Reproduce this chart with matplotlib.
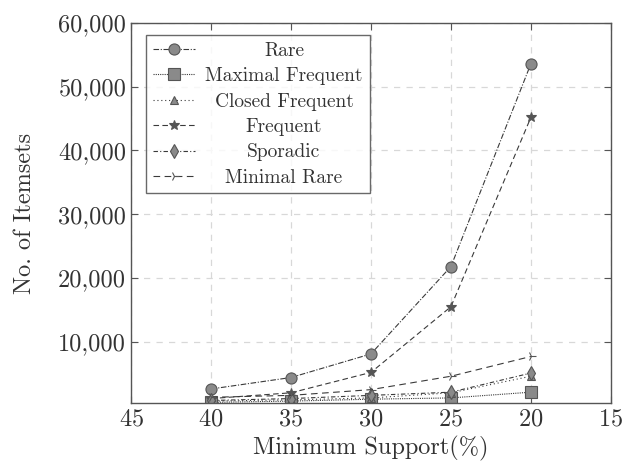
import matplotlib
matplotlib.use("Agg")
import matplotlib.pyplot as plt
from matplotlib.ticker import FuncFormatter

plt.rcParams['font.family'] = 'serif'
plt.rcParams['font.serif'] = ['cmr10']
plt.rcParams['mathtext.fontset'] = 'cm'
plt.rcParams['axes.formatter.use_mathtext'] = True

support = [40, 35, 30, 25, 20]
rare = [2600, 4400, 8100, 21800, 53600]
maximal_frequent = [500, 700, 1000, 1200, 2100]
closed_frequent = [700, 900, 1200, 2000, 4600]
frequent = [1100, 2000, 5200, 15500, 45200]
sporadic = [800, 1100, 1600, 2100, 5100]
minimal_rare = [1300, 1600, 2500, 4600, 7700]

names = ["Rare", "Maximal Frequent", "Closed Frequent", "Frequent",
         "Sporadic", "Minimal Rare"]
series = [rare, maximal_frequent, closed_frequent, frequent, sporadic,
          minimal_rare]

markers = ['o', 's', '^', '*', 'd', '4']
msizes = [8, 8, 6, 7, 7, 7]
faces = ['#8a8a8a', '#8a8a8a', '#8a8a8a', '#555555', '#8a8a8a', '#555555']
styles = [(0, (5, 1.5, 1, 1.5)), (0, (1, 1)), (0, (1, 2.5)), (0, (5, 3)),
          (0, (4, 2, 1, 2)), (0, (6, 4))]

fig = plt.figure(figsize=(6.24, 4.67), dpi=100)
ax = fig.add_axes([0.21, 0.137, 0.769, 0.814])

for vals, name, m, ms, fc, ls in zip(series, names, markers, msizes, faces, styles):
    ax.plot(support, vals, linestyle=ls, color='#3a3a3a', linewidth=0.8,
            marker=m, markersize=ms, markerfacecolor=fc,
            markeredgecolor='#555555', markeredgewidth=0.8, label=name)

ax.set_xlim(45, 15)
ax.set_ylim(400, 60000)
ax.set_xticks([45, 40, 35, 30, 25, 20, 15])
ax.set_yticks([10000, 20000, 30000, 40000, 50000, 60000])
ax.yaxis.set_major_formatter(FuncFormatter(lambda v, p: '{:,}'.format(int(v))))
ax.tick_params(direction='in', length=5, width=0.8, color='#555555',
               labelsize=17.5, top=True, right=True, labelcolor='#333333')
ax.grid(True, linestyle=(0, (5, 5)), color='#d8d8d8', linewidth=0.9)
for s in ax.spines.values():
    s.set_color('#555555')
    s.set_linewidth(1.0)

ax.set_xlabel('Minimum Support(%)', fontsize=17.5, color='#333333')
ax.set_ylabel('No. of Itemsets', fontsize=17.5, color='#333333', labelpad=16)

leg = ax.legend(loc='upper left', fontsize=14, frameon=True, fancybox=False,
                edgecolor='#444444', handlelength=2.2, handletextpad=0.5,
                borderpad=0.35, labelspacing=0.38, borderaxespad=0,
                bbox_to_anchor=(0.031, 0.968))
leg.get_frame().set_linewidth(1.0)

# center legend labels in their column
fig.canvas.draw()
renderer = fig.canvas.get_renderer()
texts = leg.get_texts()
boxes = [t.get_window_extent(renderer) for t in texts]
left = min(b.x0 for b in boxes)
widest = max(b.width for b in boxes)
for t, b in zip(texts, boxes):
    t.set_visible(False)
    fig.text(left + widest / 2, (b.y0 + b.y1) / 2, t.get_text(),
             transform=None, ha='center', va='center', fontsize=14,
             color='#333333')

fig.savefig('out.png', dpi=100)
